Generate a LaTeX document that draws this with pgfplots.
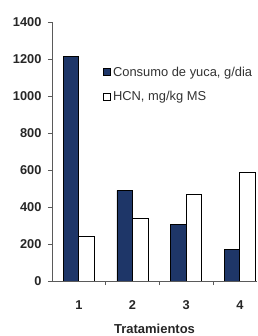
\documentclass[border=0pt]{standalone}
\usepackage{pgfplots}
\pgfplotsset{compat=1.18}
\usepackage{fontspec}
\setmainfont{Liberation Sans}
\definecolor{navy}{RGB}{30,54,104}
\definecolor{axgray}{RGB}{90,90,90}
\begin{document}
\begin{tikzpicture}
\begin{axis}[
  at={(0,0)}, anchor=south west,
  scale only axis, width=205pt, height=259pt,
  xmin=0.5, xmax=4.32, ymin=0, ymax=1400,
  ytick={0,200,...,1400},
  xtick={1,2,3,4},
  minor xtick={1.5,2.5,3.5},
  major x tick style={draw=none},
  axis x line=bottom, axis y line=left,
  axis line style={axgray, -},
  tick style={axgray, thin},
  tick align=outside,
  major tick length=4pt, minor tick length=4pt,
  ybar, bar width=15.5pt,
  /pgf/number format/assume math mode=true,
  /pgf/number format/1000 sep={},
  ticklabel style={font=\fontsize{12.8}{14}\selectfont\bfseries, text=black!85},
  yticklabel style={xshift=-3pt},
  xticklabel style={yshift=-12pt},
  xlabel={Tratamientos},
  xlabel style={font=\fontsize{13}{15}\selectfont\bfseries, text=black!85, yshift=-8pt},
  legend style={draw=none, fill=none, at={(0.249,0.835)}, anchor=north west,
    font=\fontsize{12.9}{14}\selectfont, text=black!80, row sep=9.5pt, inner sep=0pt,
    /tikz/every even column/.append style={column sep=2pt}},
  legend cell align=left,
  legend image code/.code={\draw[#1, draw=black, line width=0.8pt] (0pt,-3.5pt) rectangle (7pt,3.5pt);},
]
\addplot[fill=navy, draw=black, line width=0.8pt, bar shift=-7.75pt] coordinates {(1,1215) (2,490) (3,305) (4,170)};
\addplot[fill=white, draw=black, line width=0.8pt, bar shift=7.75pt] coordinates {(1,240) (2,340) (3,470) (4,585)};
\legend{{Consumo de yuca, g/dia}, {HCN, mg/kg MS}}
\end{axis}
\pgfresetboundingbox
\path (-52pt,-55pt) rectangle (205pt,281pt);
\end{tikzpicture}
\end{document}
